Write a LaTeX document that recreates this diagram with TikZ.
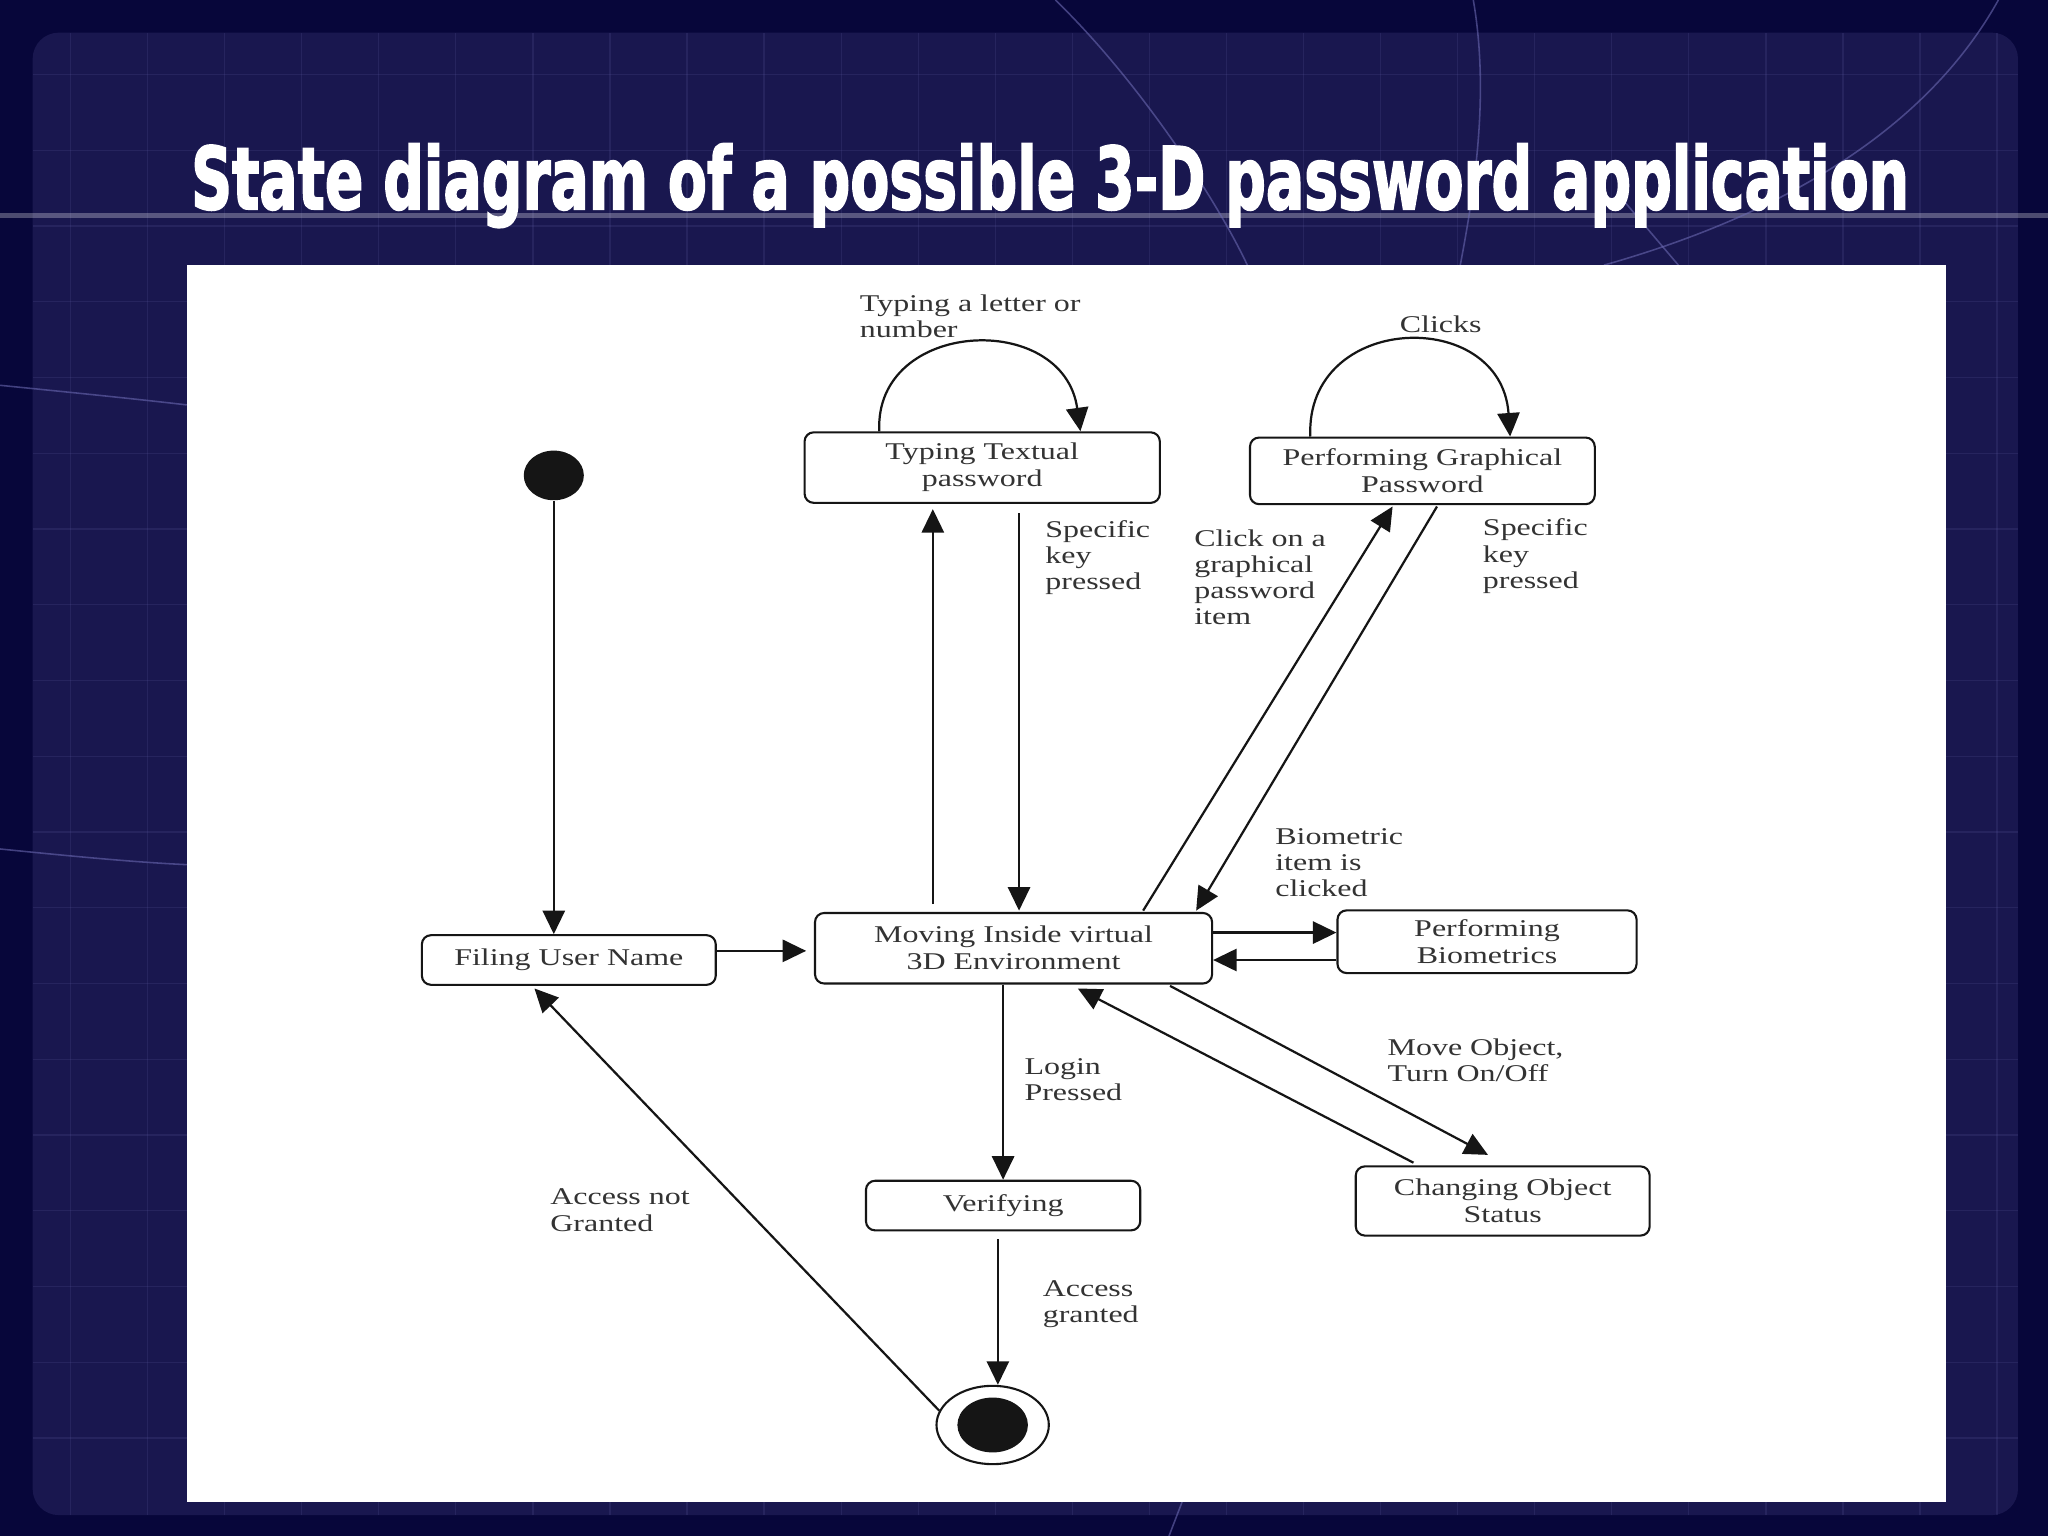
\documentclass[tikz,border=0pt]{standalone}
\usepackage{fontspec}
\setmainfont{Liberation Serif}[FakeStretch=1.33]
\newfontfamily\titlefont{DejaVu Sans}[FakeBold=2.5]
\usetikzlibrary{arrows.meta,shapes.geometric,calc}
\definecolor{bgout}{HTML}{07063A}
\definecolor{bgpanel}{HTML}{19174F}
\definecolor{gridc}{HTML}{6A68B0}
\definecolor{ink}{HTML}{151515}
\definecolor{txt}{HTML}{333333}
\tikzset{
 stbox/.style={draw=ink, line width=0.8pt, rounded corners=3.5pt, fill=white, inner sep=0pt, align=center, font=\fontsize{9.2}{10.35}\selectfont, text=txt},
 lbl/.style={inner sep=0pt, align=left, anchor=north west, font=\fontsize{9.2}{10}\selectfont, text=txt},
 arr/.style={draw=ink, line width=0.85pt, -{Triangle[length=9pt,width=8.5pt]}},
 deco/.style={draw=gridc, line width=0.6pt, opacity=0.6},
 gridln/.style={draw=gridc, line width=0.5pt, opacity=0.16},
}
\begin{document}
\begin{tikzpicture}[x=0.5pt,y=-0.5pt]
\useasboundingbox (0,0) rectangle (1568,1176);
% background
\fill[bgout] (0,0) rectangle (1568,1176);
\fill[bgpanel, rounded corners=10pt] (25,25) rectangle (1545,1160);
\foreach \x in {54,113,...,1540} \draw[gridln] (\x,25) -- (\x,1160);
\foreach \y in {57,115,...,1155} \draw[gridln] (25,\y) -- (1545,\y);
\draw[white, line width=2pt, opacity=0.28] (0,165) -- (1568,165);
\draw[deco] (808,0) .. controls (870,60) and (930,150) .. (955,203);
\draw[deco] (1128,0) .. controls (1140,70) and (1130,140) .. (1118,203);
\draw[deco] (1530,0) .. controls (1480,90) and (1380,160) .. (1228,203);
\draw[deco] (1240,150) -- (1285,203);
\draw[deco] (0,295) .. controls (50,300) and (100,305) .. (143,310);
\draw[deco] (0,650) .. controls (50,655) and (100,660) .. (143,662);
\draw[deco] (905,1150) -- (895,1176);
% white sheet
\fill[white] (143,203) rectangle (1490,1150);
% title
\node[anchor=base, text=white, inner sep=0pt] (title) at (804,160)
  {\resizebox{657.5pt}{25pt}{\titlefont\bfseries State diagram of a possible 3-D password application}};
% states
\node[stbox, minimum width=112.5pt, minimum height=19pt] (filing) at (435.5,735) {Filing User Name};
\node[stbox, minimum width=152pt, minimum height=27pt] (moving) at (776,726) {Moving Inside virtual\\3D Environment};
\node[stbox, minimum width=136pt, minimum height=27pt] (typing) at (752,358) {Typing Textual\\password};
\node[stbox, minimum width=132pt, minimum height=25.5pt] (pgp) at (1089,360.5) {Performing Graphical\\Password};
\node[stbox, minimum width=114.5pt, minimum height=24pt] (pb) at (1138.5,721) {Performing\\Biometrics};
\node[stbox, minimum width=112.5pt, minimum height=26.5pt] (cos) at (1150.5,919.5) {Changing Object\\Status};
\node[stbox, minimum width=105pt, minimum height=19pt] (verif) at (768,923) {Verifying};
\node[ellipse, fill=ink, minimum width=23pt, minimum height=19pt, inner sep=0pt] (init) at (424,364) {};
\node[ellipse, draw=ink, line width=0.8pt, minimum width=43pt, minimum height=30pt, inner sep=0pt] (final) at (760,1091) {};
\fill[ink] (final.center) ellipse [x radius=13.5pt, y radius=10.5pt];
% labels
\node[lbl] (l1) at (658,225) {Typing a letter or\\number};
\node[lbl, anchor=center] (l2) at (1103,248) {Clicks};
\node[lbl] (l3) at (800,398) {Specific\\key\\pressed};
\node[lbl] (l4) at (914,405) {Click on a\\graphical\\password\\item};
\node[lbl] (l5) at (1135,397) {Specific\\key\\pressed};
\node[lbl] (l6) at (976,634) {Biometric\\item is\\clicked};
\node[lbl] (l7) at (1062,795) {Move Object,\\Turn On/Off};
\node[lbl] (l8) at (784,810) {Login\\Pressed};
\node[lbl] (l9) at (421,910) {Access not\\Granted};
\node[lbl] (l10) at (798,980) {Access\\granted};
% connectors
\draw[arr] (init.south) -- (init.south |- filing.north);
\draw[arr, shorten >=3pt] ($(filing.east)+(0,-7)$) coordinate (fm) -- (fm -| moving.west);
\draw[arr] ($(moving.north west)+(91,-6)$) -- ($(typing.south west)+(99,4)$);
\draw[arr] ($(typing.south west)+(165,7)$) -- ($(moving.north west)+(157,-1)$);
\draw[arr] ($(moving.north west)+(252,-1)$) -- ($(pgp.south west)+(110,1)$);
\draw[arr] ($(pgp.south west)+(144,1)$) -- ($(moving.north east)+(-13,-1)$);
\draw[arr] ($(moving.east)+(0,-12)$) coordinate (mb) -- (mb -| pb.west);
\draw[arr] ($(pb.west)+(0,14)$) coordinate (bm) -- (bm -| moving.east);
\draw[arr] ($(moving.south east)+(-33,1)$) -- ($(cos.north west)+(102,-8)$);
\draw[arr] ($(cos.north west)+(45,-2)$) -- ($(moving.south west)+(202,3)$);
\draw[arr] (verif.north |- moving.south) -- (verif.north);
\draw[arr] ($(verif.south)+(-4,6)$) coordinate (vf) -- (vf |- final.north);
\draw[arr] (final.165) -- ($(filing.south west)+(87,2)$);
% self loops
\draw[arr] ($(typing.north west)+(58,0)$) .. controls +(-4,-86) and +(-13,-93) .. ($(typing.north west)+(212,0)$);
\draw[arr] ($(pgp.north west)+(47,0)$) .. controls +(-4,-95) and +(-7,-100) .. ($(pgp.north west)+(200,0)$);
\end{tikzpicture}
\end{document}
